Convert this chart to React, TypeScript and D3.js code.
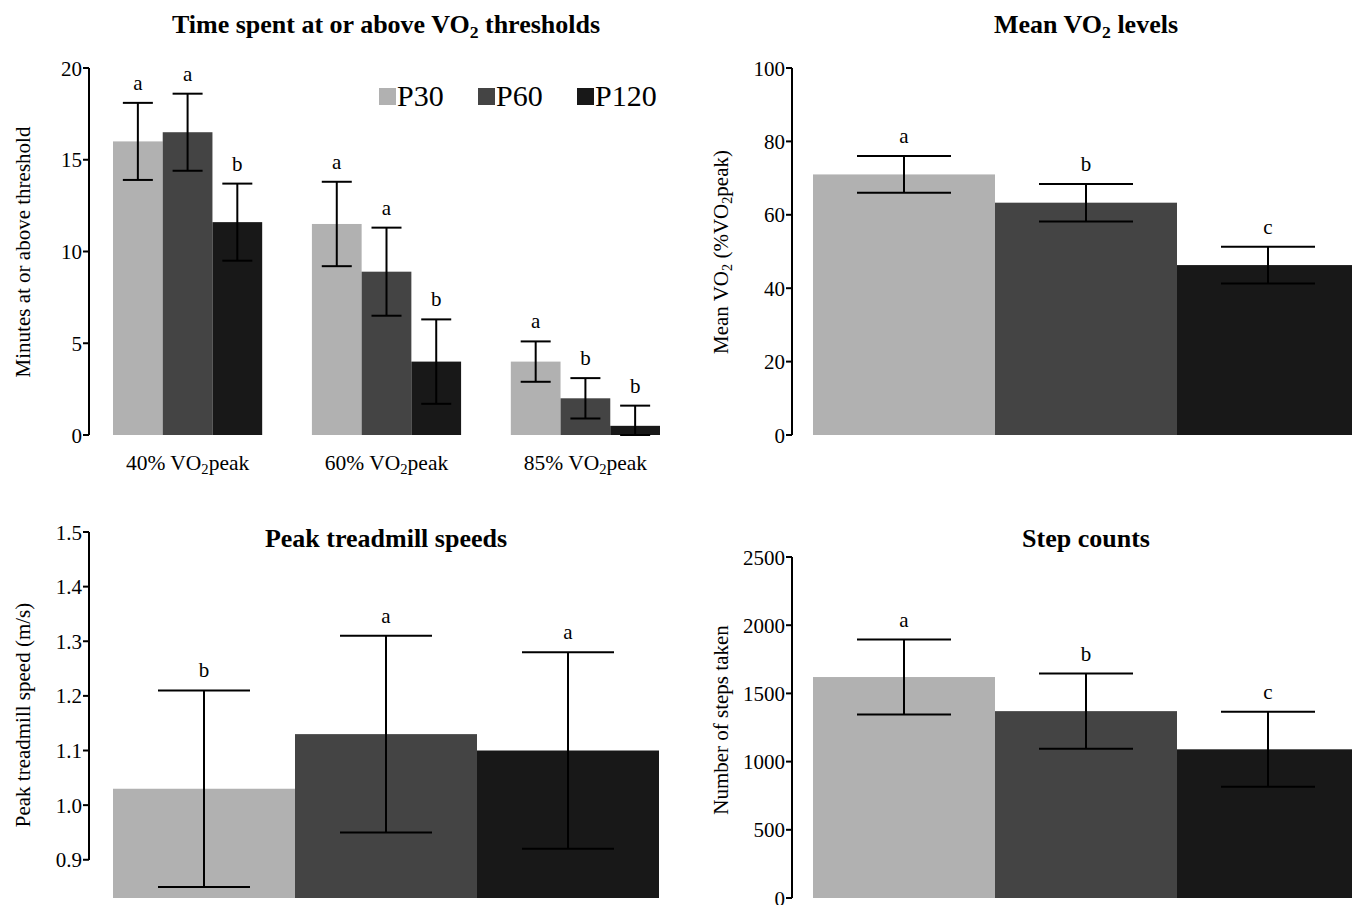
import React from "react";
import * as d3 from "d3";

const groups = ["P30", "P60", "P120"];
const groupColors = ["#b1b1b1", "#444444", "#181818"];

// Panel 1: time at thresholds
const thresholds = ["40%", "60%", "85%"];
const timeMeans = [
  [16.0, 16.5, 11.6],
  [11.5, 8.9, 4.0],
  [4.0, 2.0, 0.5],
];
const timeErr = [
  [2.1, 2.1, 2.1],
  [2.3, 2.4, 2.3],
  [1.1, 1.1, 1.1],
];
const timeLetters = [
  ["a", "a", "b"],
  ["a", "a", "b"],
  ["a", "b", "b"],
];
const timeTicks = [0, 5, 10, 15, 20];

// Panel 2: mean VO2
const vo2Means = [71, 63.3, 46.3];
const vo2Err = [5, 5.1, 5];
const vo2Letters = ["a", "b", "c"];
const vo2Ticks = [0, 20, 40, 60, 80, 100];

// Panel 3: peak treadmill speeds
const speedMeans = [1.03, 1.13, 1.1];
const speedErr = [0.18, 0.18, 0.18];
const speedLetters = ["b", "a", "a"];
const speedTicks = [0.9, 1.0, 1.1, 1.2, 1.3, 1.4, 1.5];

// Panel 4: step counts
const stepMeans = [1620, 1370, 1090];
const stepErr = [275, 275, 275];
const stepLetters = ["a", "b", "c"];
const stepTicks = [0, 500, 1000, 1500, 2000, 2500];

const FONT = "'Liberation Serif', 'Times New Roman', serif";
const TICK = 21;
const LAB = 21;

type Seg = { t: string; sub?: boolean };

function Rich({ segs, size, ...rest }: any) {
  return (
    <text fontFamily={FONT} fontSize={size} {...rest}>
      {segs.map((s: Seg, i: number) =>
        s.sub ? (
          <tspan key={i} fontSize={size * 0.68} dy={size * 0.2}>
            {s.t}
          </tspan>
        ) : (
          <tspan key={i} dy={i > 0 && segs[i - 1].sub ? -size * 0.2 : 0}>
            {s.t}
          </tspan>
        )
      )}
    </text>
  );
}

function YAxis({ x, scale, ticks, fmt, top, bottom }: any) {
  return (
    <g>
      <line x1={x} x2={x} y1={top} y2={bottom} stroke="#000" strokeWidth={2} />
      {ticks.map((t: number) => (
        <g key={t}>
          <line x1={x - 6} x2={x} y1={scale(t)} y2={scale(t)} stroke="#000" strokeWidth={2} />
          <text
            x={x - 7}
            y={scale(t)}
            dy="0.36em"
            textAnchor="end"
            fontFamily={FONT}
            fontSize={TICK}
          >
            {fmt(t)}
          </text>
        </g>
      ))}
    </g>
  );
}

function ErrBar({ cx, yLo, yHi, half }: any) {
  return (
    <g stroke="#000" strokeWidth={2}>
      <line x1={cx} x2={cx} y1={yLo} y2={yHi} />
      <line x1={cx - half} x2={cx + half} y1={yLo} y2={yLo} />
      <line x1={cx - half} x2={cx + half} y1={yHi} y2={yHi} />
    </g>
  );
}

function SimplePanel({ means, errs, letters, y, x0, x1, capHalf }: any) {
  const x = d3.scaleBand().domain(groups).range([x0, x1]).paddingInner(0).paddingOuter(0);
  const base = y.range()[0];
  return (
    <g>
      {groups.map((g, i) => {
        const cx = (x(g) as number) + x.bandwidth() / 2;
        const hi = y(means[i] + errs[i]);
        const lo = Math.min(y(means[i] - errs[i]), base);
        return (
          <g key={g}>
            <rect
              x={x(g)}
              y={y(means[i])}
              width={x.bandwidth()}
              height={base - y(means[i])}
              fill={groupColors[i]}
            />
            <ErrBar cx={cx} yLo={lo} yHi={hi} half={capHalf} />
            <text x={cx} y={hi - 13} textAnchor="middle" fontFamily={FONT} fontSize={LAB}>
              {letters[i]}
            </text>
          </g>
        );
      })}
    </g>
  );
}

export default function App() {
  // Panel 1
  const y1 = d3.scaleLinear().domain([0, 20]).range([435, 68]);
  const gx = d3.scaleBand().domain(thresholds).range([113, 660]).paddingInner(0.25).paddingOuter(0);
  const ix = d3.scaleBand().domain(groups).range([0, gx.bandwidth()]).padding(0);

  // Panel 2
  const y2 = d3.scaleLinear().domain([0, 100]).range([435, 68]);
  // Panel 3
  const y3 = d3.scaleLinear().domain([0.83, 1.5]).range([898, 532]);
  // Panel 4
  const y4 = d3.scaleLinear().domain([0, 2500]).range([898, 557]);

  const vo2 = (): Seg[] => [{ t: "VO" }, { t: "2", sub: true }];

  return (
    <svg
      width={1352}
      height={905}
      style={{ position: "absolute", left: 0, top: 0, background: "#fff" }}
    >
      <rect x={0} y={0} width={1352} height={905} fill="#fff" />

      {/* Panel 1 */}
      <Rich
        segs={[{ t: "Time spent at or above " }, ...vo2(), { t: " thresholds" }]}
        size={26}
        fontWeight="bold"
        x={386}
        y={33}
        textAnchor="middle"
      />
      <YAxis x={89} scale={y1} ticks={timeTicks} fmt={(t: number) => String(t)} top={68} bottom={435} />
      <text
        transform="translate(30,252) rotate(-90)"
        textAnchor="middle"
        fontFamily={FONT}
        fontSize={LAB}
      >
        Minutes at or above threshold
      </text>
      {thresholds.map((th, gi) => {
        const gx0 = gx(th) as number;
        return (
          <g key={th}>
            {groups.map((g, i) => {
              const bx = gx0 + (ix(g) as number);
              const cx = bx + ix.bandwidth() / 2;
              const m = timeMeans[gi][i];
              const e = timeErr[gi][i];
              const hi = y1(m + e);
              const lo = y1(Math.max(0, m - e));
              return (
                <g key={g}>
                  <rect x={bx} y={y1(m)} width={ix.bandwidth()} height={435 - y1(m)} fill={groupColors[i]} />
                  <ErrBar cx={cx} yLo={lo} yHi={hi} half={15} />
                  <text x={cx} y={hi - 13} textAnchor="middle" fontFamily={FONT} fontSize={LAB}>
                    {timeLetters[gi][i]}
                  </text>
                </g>
              );
            })}
            <Rich
              segs={[{ t: th + " " }, ...vo2(), { t: "peak" }]}
              size={21.5}
              x={gx0 + gx.bandwidth() / 2}
              y={470}
              textAnchor="middle"
            />
          </g>
        );
      })}
      {/* Legend */}
      {groups.map((g, i) => {
        const lx = [379, 478, 577][i];
        return (
          <g key={g}>
            <rect x={lx} y={88} width={17} height={17} fill={groupColors[i]} />
            <text x={lx + 18} y={106} fontFamily={FONT} fontSize={30}>
              {g}
            </text>
          </g>
        );
      })}

      {/* Panel 2 */}
      <Rich
        segs={[{ t: "Mean " }, ...vo2(), { t: " levels" }]}
        size={26}
        fontWeight="bold"
        x={1086}
        y={33}
        textAnchor="middle"
      />
      <YAxis x={792} scale={y2} ticks={vo2Ticks} fmt={(t: number) => String(t)} top={68} bottom={435} />
      <Rich
        segs={[{ t: "Mean " }, ...vo2(), { t: " (%" }, ...vo2(), { t: "peak)" }]}
        size={LAB}
        transform="translate(728,252) rotate(-90)"
        textAnchor="middle"
      />
      <SimplePanel means={vo2Means} errs={vo2Err} letters={vo2Letters} y={y2} x0={813} x1={1359} capHalf={47} />

      {/* Panel 3 */}
      <text x={386} y={547} textAnchor="middle" fontFamily={FONT} fontSize={26} fontWeight="bold">
        Peak treadmill speeds
      </text>
      <YAxis x={89} scale={y3} ticks={speedTicks} fmt={(t: number) => t.toFixed(1)} top={532} bottom={860} />
      <text
        transform="translate(30,715) rotate(-90)"
        textAnchor="middle"
        fontFamily={FONT}
        fontSize={LAB}
      >
        Peak treadmill speed (m/s)
      </text>
      <SimplePanel means={speedMeans} errs={speedErr} letters={speedLetters} y={y3} x0={113} x1={659} capHalf={46} />

      {/* Panel 4 */}
      <text x={1086} y={547} textAnchor="middle" fontFamily={FONT} fontSize={26} fontWeight="bold">
        Step counts
      </text>
      <YAxis x={792} scale={y4} ticks={stepTicks} fmt={(t: number) => String(t)} top={557} bottom={898} />
      <text
        transform="translate(728,720) rotate(-90)"
        textAnchor="middle"
        fontFamily={FONT}
        fontSize={LAB}
      >
        Number of steps taken
      </text>
      <SimplePanel means={stepMeans} errs={stepErr} letters={stepLetters} y={y4} x0={813} x1={1359} capHalf={47} />
    </svg>
  );
}
